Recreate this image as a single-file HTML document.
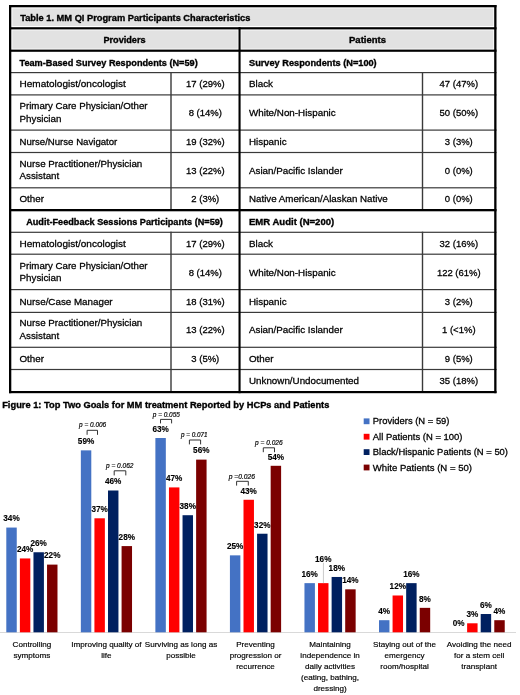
<!DOCTYPE html>
<html><head><meta charset="utf-8"><style>
html,body{margin:0;padding:0;background:#fff;}
body{width:520px;height:695px;overflow:hidden;font-family:"Liberation Sans",sans-serif;}
svg{display:block;filter:blur(0.3px);}
text{stroke:#000;stroke-width:0.28px;}
text[font-weight=bold]{stroke-width:0.35px;}
text.sm{stroke:#000;stroke-width:0.18px;}
text.lb{stroke:#000;stroke-width:0.12px;}
text.pv{stroke:#000;stroke-width:0.2px;}
</style></head><body>
<svg width="520" height="695" viewBox="0 0 520 695" font-family="Liberation Sans, sans-serif">
<rect x="12.40" y="8.40" width="481.00" height="17.60" fill="#e2e2e2"/>
<rect x="12.40" y="30.40" width="225.30" height="18.20" fill="#e2e2e2"/>
<rect x="241.30" y="30.40" width="252.00" height="18.20" fill="#e2e2e2"/>
<rect x="9.00" y="5.00" width="487.50" height="2.30" fill="#000"/>
<rect x="9.00" y="27.20" width="487.50" height="2.20" fill="#000"/>
<rect x="9.00" y="49.60" width="487.50" height="2.20" fill="#000"/>
<rect x="9.00" y="209.00" width="487.50" height="2.30" fill="#000"/>
<rect x="9.00" y="391.00" width="487.50" height="2.20" fill="#000"/>
<rect x="9.00" y="72.00" width="487.50" height="1.20" fill="#3a3a3a"/>
<rect x="9.00" y="94.30" width="487.50" height="1.20" fill="#3a3a3a"/>
<rect x="9.00" y="129.50" width="487.50" height="1.20" fill="#3a3a3a"/>
<rect x="9.00" y="151.90" width="487.50" height="1.20" fill="#3a3a3a"/>
<rect x="9.00" y="187.20" width="487.50" height="1.20" fill="#3a3a3a"/>
<rect x="9.00" y="231.70" width="487.50" height="1.20" fill="#3a3a3a"/>
<rect x="9.00" y="253.60" width="487.50" height="1.20" fill="#3a3a3a"/>
<rect x="9.00" y="289.00" width="487.50" height="1.20" fill="#3a3a3a"/>
<rect x="9.00" y="311.80" width="487.50" height="1.20" fill="#3a3a3a"/>
<rect x="9.00" y="346.70" width="487.50" height="1.20" fill="#3a3a3a"/>
<rect x="9.00" y="368.90" width="487.50" height="1.20" fill="#3a3a3a"/>
<rect x="9.00" y="5.00" width="2.30" height="388.20" fill="#000"/>
<rect x="494.20" y="5.00" width="2.30" height="388.20" fill="#000"/>
<rect x="238.50" y="27.20" width="2.10" height="366.00" fill="#000"/>
<rect x="170.30" y="72.00" width="1.40" height="137.00" fill="#3a3a3a"/>
<rect x="170.30" y="231.70" width="1.40" height="159.30" fill="#3a3a3a"/>
<rect x="421.80" y="72.00" width="1.40" height="137.00" fill="#3a3a3a"/>
<rect x="421.80" y="231.70" width="1.40" height="159.30" fill="#3a3a3a"/>
<text x="20.20" y="20.80" font-size="9.5" font-weight="bold" textLength="230.2" lengthAdjust="spacingAndGlyphs">Table 1. MM QI Program Participants Characteristics</text>
<text x="124.50" y="43.00" font-size="9.5" text-anchor="middle" font-weight="bold" textLength="42.2" lengthAdjust="spacingAndGlyphs">Providers</text>
<text x="367.50" y="43.00" font-size="9.5" text-anchor="middle" font-weight="bold">Patients</text>
<text x="19.50" y="65.50" font-size="9.5" font-weight="bold" textLength="178.2" lengthAdjust="spacingAndGlyphs">Team-Based Survey Respondents (N=59)</text>
<text x="19.50" y="87.35" font-size="9.8" textLength="106.4" lengthAdjust="spacingAndGlyphs">Hematologist/oncologist</text>
<text x="205.30" y="87.35" font-size="9.5" text-anchor="middle">17 (29%)</text>
<text x="19.50" y="109.10" font-size="9.8" textLength="128.0" lengthAdjust="spacingAndGlyphs">Primary Care Physician/Other</text>
<text x="19.50" y="121.60" font-size="9.8">Physician</text>
<text x="205.30" y="116.10" font-size="9.5" text-anchor="middle">8 (14%)</text>
<text x="19.50" y="144.90" font-size="9.8" textLength="97.8" lengthAdjust="spacingAndGlyphs">Nurse/Nurse Navigator</text>
<text x="205.30" y="144.90" font-size="9.5" text-anchor="middle">19 (32%)</text>
<text x="19.50" y="166.75" font-size="9.8" textLength="122.8" lengthAdjust="spacingAndGlyphs">Nurse Practitioner/Physician</text>
<text x="19.50" y="179.25" font-size="9.8">Assistant</text>
<text x="205.30" y="173.75" font-size="9.5" text-anchor="middle">13 (22%)</text>
<text x="19.50" y="202.30" font-size="9.8">Other</text>
<text x="205.30" y="202.30" font-size="9.5" text-anchor="middle">2 (3%)</text>
<text x="124.50" y="225.10" font-size="9.5" text-anchor="middle" font-weight="bold" textLength="196.7" lengthAdjust="spacingAndGlyphs">Audit-Feedback Sessions Participants (N=59)</text>
<text x="19.50" y="246.85" font-size="9.8" textLength="106.4" lengthAdjust="spacingAndGlyphs">Hematologist/oncologist</text>
<text x="205.30" y="246.85" font-size="9.5" text-anchor="middle">17 (29%)</text>
<text x="19.50" y="268.50" font-size="9.8" textLength="128.0" lengthAdjust="spacingAndGlyphs">Primary Care Physician/Other</text>
<text x="19.50" y="281.00" font-size="9.8">Physician</text>
<text x="205.30" y="275.50" font-size="9.5" text-anchor="middle">8 (14%)</text>
<text x="19.50" y="304.60" font-size="9.8">Nurse/Case Manager</text>
<text x="205.30" y="304.60" font-size="9.5" text-anchor="middle">18 (31%)</text>
<text x="19.50" y="326.45" font-size="9.8" textLength="122.8" lengthAdjust="spacingAndGlyphs">Nurse Practitioner/Physician</text>
<text x="19.50" y="338.95" font-size="9.8">Assistant</text>
<text x="205.30" y="333.45" font-size="9.5" text-anchor="middle">13 (22%)</text>
<text x="19.50" y="362.00" font-size="9.8">Other</text>
<text x="205.30" y="362.00" font-size="9.5" text-anchor="middle">3 (5%)</text>
<text x="249.00" y="65.50" font-size="9.5" font-weight="bold" textLength="127.7" lengthAdjust="spacingAndGlyphs">Survey Respondents (N=100)</text>
<text x="249.00" y="87.35" font-size="9.8">Black</text>
<text x="458.80" y="87.35" font-size="9.5" text-anchor="middle">47 (47%)</text>
<text x="249.00" y="116.10" font-size="9.8" textLength="86.7" lengthAdjust="spacingAndGlyphs">White/Non-Hispanic</text>
<text x="458.80" y="116.10" font-size="9.5" text-anchor="middle">50 (50%)</text>
<text x="249.00" y="144.90" font-size="9.8">Hispanic</text>
<text x="458.80" y="144.90" font-size="9.5" text-anchor="middle">3 (3%)</text>
<text x="249.00" y="173.75" font-size="9.8">Asian/Pacific Islander</text>
<text x="458.80" y="173.75" font-size="9.5" text-anchor="middle">0 (0%)</text>
<text x="249.00" y="202.30" font-size="9.8" textLength="138.7" lengthAdjust="spacingAndGlyphs">Native American/Alaskan Native</text>
<text x="458.80" y="202.30" font-size="9.5" text-anchor="middle">0 (0%)</text>
<text x="249.00" y="225.10" font-size="9.5" font-weight="bold" textLength="85.2" lengthAdjust="spacingAndGlyphs">EMR Audit (N=200)</text>
<text x="249.00" y="246.85" font-size="9.8">Black</text>
<text x="458.80" y="246.85" font-size="9.5" text-anchor="middle">32 (16%)</text>
<text x="249.00" y="275.50" font-size="9.8" textLength="86.7" lengthAdjust="spacingAndGlyphs">White/Non-Hispanic</text>
<text x="458.80" y="275.50" font-size="9.5" text-anchor="middle">122 (61%)</text>
<text x="249.00" y="304.60" font-size="9.8">Hispanic</text>
<text x="458.80" y="304.60" font-size="9.5" text-anchor="middle">3 (2%)</text>
<text x="249.00" y="333.45" font-size="9.8">Asian/Pacific Islander</text>
<text x="458.80" y="333.45" font-size="9.5" text-anchor="middle">1 (&lt;1%)</text>
<text x="249.00" y="362.00" font-size="9.8">Other</text>
<text x="458.80" y="362.00" font-size="9.5" text-anchor="middle">9 (5%)</text>
<text x="249.00" y="384.15" font-size="9.8">Unknown/Undocumented</text>
<text x="458.80" y="384.15" font-size="9.5" text-anchor="middle">35 (18%)</text>
<text x="2.20" y="408.20" font-size="9.6" font-weight="bold" textLength="327.2" lengthAdjust="spacingAndGlyphs">Figure 1: Top Two Goals for MM treatment Reported by HCPs and Patients</text>
<rect x="363.70" y="418.40" width="5.80" height="5.80" fill="#4472c4"/>
<text x="372.80" y="424.30" font-size="9.4" textLength="76.7" lengthAdjust="spacingAndGlyphs">Providers (N = 59)</text>
<rect x="363.70" y="433.80" width="5.80" height="5.80" fill="#ff0000"/>
<text x="372.80" y="439.70" font-size="9.4" textLength="89.7" lengthAdjust="spacingAndGlyphs">All Patients (N = 100)</text>
<rect x="363.70" y="449.20" width="5.80" height="5.80" fill="#002060"/>
<text x="372.80" y="455.10" font-size="9.4" textLength="135.2" lengthAdjust="spacingAndGlyphs">Black/Hispanic Patients (N = 50)</text>
<rect x="363.70" y="464.60" width="5.80" height="5.80" fill="#7b0000"/>
<text x="372.80" y="470.50" font-size="9.4" textLength="99.2" lengthAdjust="spacingAndGlyphs">White Patients (N = 50)</text>
<rect x="0.00" y="632.00" width="516.00" height="1.00" fill="#d9d9d9"/>
<rect x="6.30" y="527.56" width="10.45" height="104.74" fill="#4472c4"/>
<text x="11.50" y="521.36" font-size="8.2" text-anchor="middle" font-weight="bold" class="lb">34%</text>
<rect x="19.88" y="558.44" width="10.45" height="73.86" fill="#ff0000"/>
<text x="25.08" y="552.24" font-size="8.2" text-anchor="middle" font-weight="bold" class="lb">24%</text>
<rect x="33.46" y="552.26" width="10.45" height="80.04" fill="#002060"/>
<text x="38.66" y="546.06" font-size="8.2" text-anchor="middle" font-weight="bold" class="lb">26%</text>
<rect x="47.04" y="564.61" width="10.45" height="67.69" fill="#7b0000"/>
<text x="52.24" y="558.41" font-size="8.2" text-anchor="middle" font-weight="bold" class="lb">22%</text>
<rect x="80.84" y="450.36" width="10.45" height="181.94" fill="#4472c4"/>
<text x="86.04" y="444.16" font-size="8.2" text-anchor="middle" font-weight="bold" class="lb">59%</text>
<rect x="94.42" y="518.29" width="10.45" height="114.01" fill="#ff0000"/>
<text x="99.62" y="512.09" font-size="8.2" text-anchor="middle" font-weight="bold" class="lb">37%</text>
<rect x="108.00" y="490.50" width="10.45" height="141.80" fill="#002060"/>
<text x="113.20" y="484.30" font-size="8.2" text-anchor="middle" font-weight="bold" class="lb">46%</text>
<rect x="121.58" y="546.09" width="10.45" height="86.21" fill="#7b0000"/>
<text x="126.78" y="539.89" font-size="8.2" text-anchor="middle" font-weight="bold" class="lb">28%</text>
<rect x="155.38" y="438.01" width="10.45" height="194.29" fill="#4472c4"/>
<text x="160.58" y="431.81" font-size="8.2" text-anchor="middle" font-weight="bold" class="lb">63%</text>
<rect x="168.96" y="487.41" width="10.45" height="144.89" fill="#ff0000"/>
<text x="174.16" y="481.21" font-size="8.2" text-anchor="middle" font-weight="bold" class="lb">47%</text>
<rect x="182.54" y="515.21" width="10.45" height="117.09" fill="#002060"/>
<text x="187.74" y="509.01" font-size="8.2" text-anchor="middle" font-weight="bold" class="lb">38%</text>
<rect x="196.12" y="459.62" width="10.45" height="172.68" fill="#7b0000"/>
<text x="201.32" y="453.42" font-size="8.2" text-anchor="middle" font-weight="bold" class="lb">56%</text>
<rect x="229.92" y="555.35" width="10.45" height="76.95" fill="#4472c4"/>
<text x="235.12" y="549.15" font-size="8.2" text-anchor="middle" font-weight="bold" class="lb">25%</text>
<rect x="243.50" y="499.77" width="10.45" height="132.53" fill="#ff0000"/>
<text x="248.70" y="493.57" font-size="8.2" text-anchor="middle" font-weight="bold" class="lb">43%</text>
<rect x="257.08" y="533.73" width="10.45" height="98.57" fill="#002060"/>
<text x="262.28" y="527.53" font-size="8.2" text-anchor="middle" font-weight="bold" class="lb">32%</text>
<rect x="270.66" y="465.80" width="10.45" height="166.50" fill="#7b0000"/>
<text x="275.86" y="459.60" font-size="8.2" text-anchor="middle" font-weight="bold" class="lb">54%</text>
<rect x="304.46" y="583.14" width="10.45" height="49.16" fill="#4472c4"/>
<text x="309.66" y="576.94" font-size="8.2" text-anchor="middle" font-weight="bold" class="lb">16%</text>
<rect x="318.04" y="583.14" width="10.45" height="49.16" fill="#ff0000"/>
<text x="323.24" y="561.80" font-size="8.2" text-anchor="middle" font-weight="bold" class="lb">16%</text>
<rect x="322.94" y="562.80" width="0.80" height="20.34" fill="#bfbfbf"/>
<rect x="331.62" y="576.97" width="10.45" height="55.33" fill="#002060"/>
<text x="336.82" y="570.77" font-size="8.2" text-anchor="middle" font-weight="bold" class="lb">18%</text>
<rect x="345.20" y="589.32" width="10.45" height="42.98" fill="#7b0000"/>
<text x="350.40" y="583.12" font-size="8.2" text-anchor="middle" font-weight="bold" class="lb">14%</text>
<rect x="379.00" y="620.20" width="10.45" height="12.10" fill="#4472c4"/>
<text x="384.20" y="614.00" font-size="8.2" text-anchor="middle" font-weight="bold" class="lb">4%</text>
<rect x="392.58" y="595.49" width="10.45" height="36.81" fill="#ff0000"/>
<text x="397.78" y="589.29" font-size="8.2" text-anchor="middle" font-weight="bold" class="lb">12%</text>
<rect x="406.16" y="583.14" width="10.45" height="49.16" fill="#002060"/>
<text x="411.36" y="576.94" font-size="8.2" text-anchor="middle" font-weight="bold" class="lb">16%</text>
<rect x="419.74" y="607.85" width="10.45" height="24.45" fill="#7b0000"/>
<text x="424.94" y="601.65" font-size="8.2" text-anchor="middle" font-weight="bold" class="lb">8%</text>
<text x="458.74" y="626.35" font-size="8.2" text-anchor="middle" font-weight="bold" class="lb">0%</text>
<rect x="467.12" y="623.29" width="10.45" height="9.01" fill="#ff0000"/>
<text x="472.32" y="617.09" font-size="8.2" text-anchor="middle" font-weight="bold" class="lb">3%</text>
<rect x="480.70" y="614.02" width="10.45" height="18.28" fill="#002060"/>
<text x="485.90" y="607.82" font-size="8.2" text-anchor="middle" font-weight="bold" class="lb">6%</text>
<rect x="494.28" y="620.20" width="10.45" height="12.10" fill="#7b0000"/>
<text x="499.48" y="614.00" font-size="8.2" text-anchor="middle" font-weight="bold" class="lb">4%</text>
<text x="79.10" y="426.80" font-size="6.4" font-style="italic" fill="#111" textLength="27.1" lengthAdjust="spacingAndGlyphs" class="pv">p = 0.006</text>
<path d="M87.1 434.8 V430.3 H97.5 V434.8" fill="none" stroke="#333" stroke-width="1"/>
<text x="106.00" y="467.60" font-size="6.4" font-style="italic" fill="#111" textLength="27.4" lengthAdjust="spacingAndGlyphs" class="pv">p = 0.062</text>
<path d="M114.2 475.4 V470.8 H125.8 V475.4" fill="none" stroke="#333" stroke-width="1"/>
<text x="152.80" y="417.00" font-size="6.4" font-style="italic" fill="#111" textLength="27.1" lengthAdjust="spacingAndGlyphs" class="pv">p = 0.055</text>
<path d="M160.5 423.4 V419.4 H171.6 V423.4" fill="none" stroke="#333" stroke-width="1"/>
<text x="181.10" y="437.20" font-size="6.4" font-style="italic" fill="#111" textLength="26.5" lengthAdjust="spacingAndGlyphs" class="pv">p = 0.071</text>
<path d="M189.4 444.4 V440.0 H200.6 V444.4" fill="none" stroke="#333" stroke-width="1"/>
<text x="228.70" y="479.00" font-size="6.4" font-style="italic" fill="#111" textLength="26.2" lengthAdjust="spacingAndGlyphs" class="pv">p =0.026</text>
<path d="M236.6 485.6 V481.3 H248.3 V485.6" fill="none" stroke="#333" stroke-width="1"/>
<text x="255.10" y="445.40" font-size="6.4" font-style="italic" fill="#111" textLength="27.5" lengthAdjust="spacingAndGlyphs" class="pv">p = 0.026</text>
<path d="M263.3 452.2 V447.8 H274.5 V452.2" fill="none" stroke="#333" stroke-width="1"/>
<text x="31.90" y="646.80" font-size="8.1" text-anchor="middle" class="sm">Controlling</text>
<text x="31.90" y="657.80" font-size="8.1" text-anchor="middle" class="sm">symptoms</text>
<text x="106.44" y="646.80" font-size="8.1" text-anchor="middle" class="sm">Improving quality of</text>
<text x="106.44" y="657.80" font-size="8.1" text-anchor="middle" class="sm">life</text>
<text x="180.98" y="646.80" font-size="8.1" text-anchor="middle" class="sm">Surviving as long as</text>
<text x="180.98" y="657.80" font-size="8.1" text-anchor="middle" class="sm">possible</text>
<text x="255.52" y="646.80" font-size="8.1" text-anchor="middle" class="sm">Preventing</text>
<text x="255.52" y="657.80" font-size="8.1" text-anchor="middle" class="sm">progression or</text>
<text x="255.52" y="668.80" font-size="8.1" text-anchor="middle" class="sm">recurrence</text>
<text x="330.06" y="646.80" font-size="8.1" text-anchor="middle" class="sm">Maintaining</text>
<text x="330.06" y="657.80" font-size="8.1" text-anchor="middle" class="sm">independence in</text>
<text x="330.06" y="668.80" font-size="8.1" text-anchor="middle" class="sm">daily activities</text>
<text x="330.06" y="679.80" font-size="8.1" text-anchor="middle" class="sm">(eating, bathing,</text>
<text x="330.06" y="690.80" font-size="8.1" text-anchor="middle" class="sm">dressing)</text>
<text x="404.60" y="646.80" font-size="8.1" text-anchor="middle" class="sm">Staying out of the</text>
<text x="404.60" y="657.80" font-size="8.1" text-anchor="middle" class="sm">emergency</text>
<text x="404.60" y="668.80" font-size="8.1" text-anchor="middle" class="sm">room/hospital</text>
<text x="479.14" y="646.80" font-size="8.1" text-anchor="middle" class="sm">Avoiding the need</text>
<text x="479.14" y="657.80" font-size="8.1" text-anchor="middle" class="sm">for a stem cell</text>
<text x="479.14" y="668.80" font-size="8.1" text-anchor="middle" class="sm">transplant</text>
</svg>
</body></html>
